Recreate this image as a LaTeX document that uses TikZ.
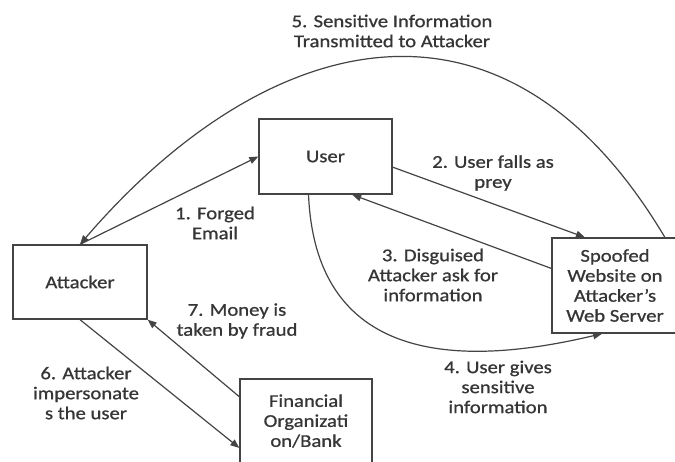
\documentclass[tikz,border=0pt]{standalone}
\usepackage{fontspec}
\setmainfont{Carlito}[FakeStretch=1.15,FakeBold=0.8]
\usetikzlibrary{arrows.meta}
\definecolor{ln}{HTML}{444444}
\definecolor{tx}{HTML}{363636}
\tikzset{
  box/.style={draw=ln, line width=1.3pt, rectangle, align=center, inner sep=0pt, text=tx,
    font=\fontsize{18}{20}\selectfont},
  lbl/.style={align=center, inner sep=0pt, text=tx, font=\fontsize{18}{20}\selectfont},
  conn/.style={draw=ln, line width=1.2pt, -{Triangle[length=9pt,width=7pt]}},
}
\begin{document}
\begin{tikzpicture}[x=1pt,y=-1pt]
\clip (0,0) rectangle (675,461);
\fill[white] (0,0) rectangle (675,461);
\node[box, minimum width=133pt, minimum height=75pt] (user) at (325.5,156.5) {User};
\node[box, minimum width=134pt, minimum height=74pt] (attacker) at (80,282) {Attacker};
\node[box, minimum width=126pt, minimum height=95pt] (spoof) at (615,285.5) {Spoofed\\Website on\\Attacker's\\Web Server};
\node[box, minimum width=132pt, minimum height=84pt] (bank) at (306,421) {Financial\\Organizati\\on/Bank};

\draw[conn] (attacker.north) -- (user.west);
\draw[conn] (user.-9) -- (spoof.122);
\draw[conn] (spoof.165) -- (user.-55);
\draw[conn] (user.-114) .. controls (316,370) and (470,365) .. (spoof.-105);
\draw[conn] (spoof.44) .. controls (500,-40) and (260,35) .. (attacker.north);
\draw[conn] (attacker.south) -- (bank.-158);
\draw[conn] (bank.160) -- (attacker.south east);

\node[lbl] (l1) at (215,223) {1. Forged\\Email};
\node[lbl] (l2) at (493,173) {2. User falls as\\prey};
\node[lbl] (l3) at (433,275) {3. Disguised\\Attacker ask for\\information};
\node[lbl] (l4) at (498,387) {4. User gives\\sensitive\\information};
\node[lbl] (l5) at (392,31) {5. Sensitive Information\\Transmitted to Attacker};
\node[lbl] (l6) at (86,393) {6. Attacker\\impersonate\\s the user};
\node[lbl] (l7) at (237,321) {7. Money is\\taken by fraud};
\end{tikzpicture}
\end{document}
